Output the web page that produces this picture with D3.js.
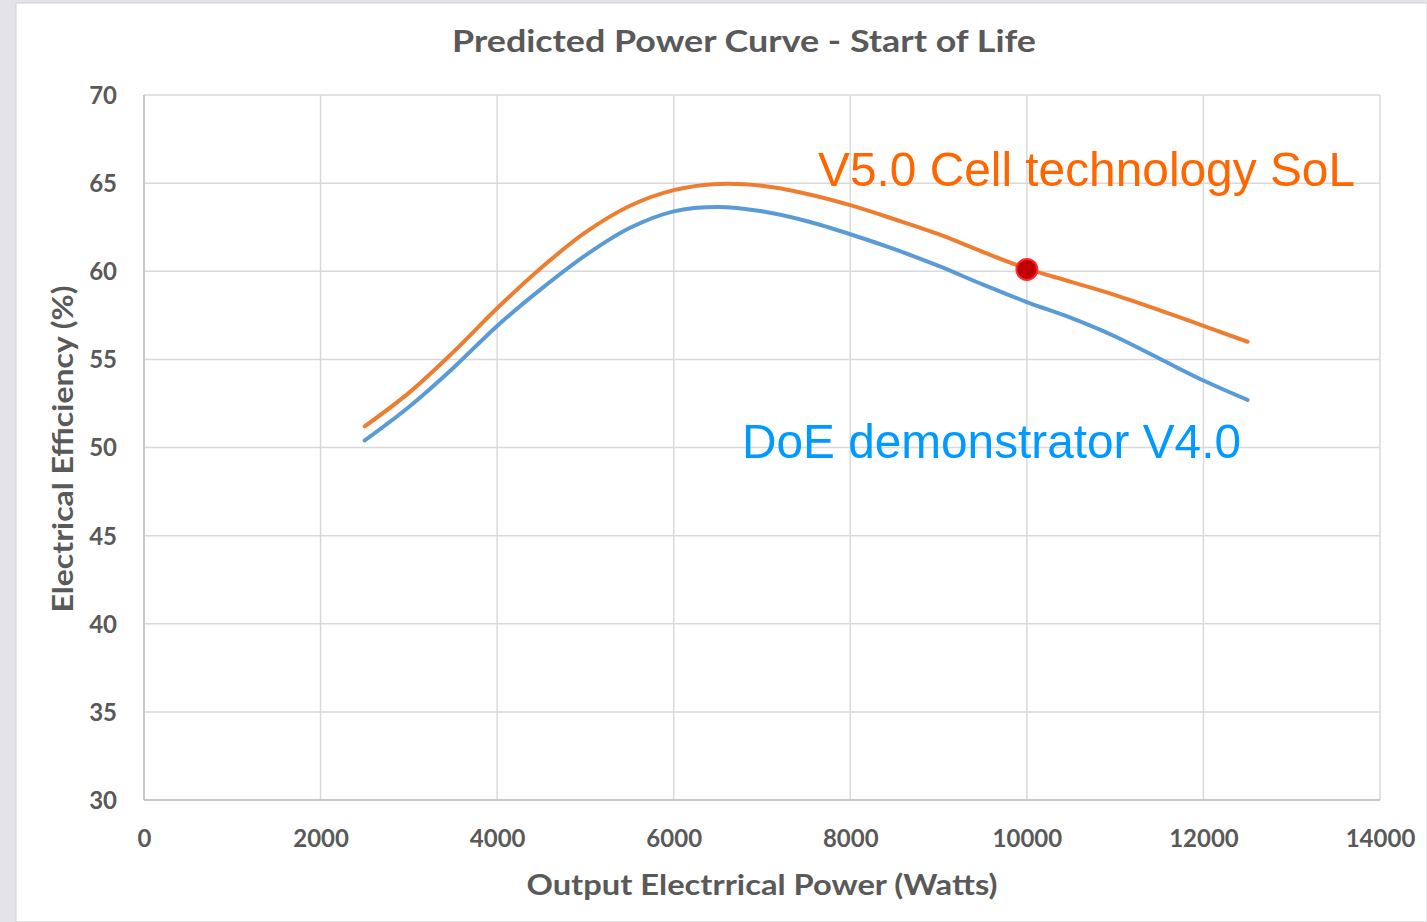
<!doctype html>
<html>
  <head>
    <meta charset="utf-8">
    <script src="https://cdn.jsdelivr.net/npm/d3@7"></script>
  <style>
    body { margin: 0; }
    text { font-family: Lato, "Open Sans", sans-serif; }
  </style>
  </head>
  <body>
    <svg width="1427" height="922"></svg>
  <script>

    let width = 1427,
        height = 922

    // chart values
    let power = [2500, 3000, 3500, 4000, 4500, 5000, 5500, 6000, 6500, 7000, 7500,
                 8000, 8500, 9000, 9500, 10000, 10500, 11000, 11500, 12000, 12500]
    let v5Cell = [51.2, 53.1, 55.4, 57.9, 60.2, 62.2, 63.7, 64.6, 64.95, 64.85, 64.4,
                  63.75, 62.95, 62.1, 61.1, 60.15, 59.4, 58.65, 57.8, 56.9, 56.0]
    let doeV4 = [50.4, 52.3, 54.5, 56.9, 59.0, 60.9, 62.45, 63.4, 63.65, 63.4, 62.85,
                 62.1, 61.25, 60.3, 59.25, 58.25, 57.35, 56.3, 55.05, 53.8, 52.7]
    let marker = [{ x: 10000, y: 60.1 }]
    let xTicks = [0, 2000, 4000, 6000, 8000, 10000, 12000, 14000]
    let yTicks = [30, 35, 40, 45, 50, 55, 60, 65, 70]

    let svg = d3.select("svg")

    // grey page edge behind the white chart panel
    svg.append("rect").attr("width", width).attr("height", height).attr("fill", "#e4e4e8")
    svg.append("rect").attr("x", 16).attr("y", 3).attr("width", width - 16).attr("height", height - 3)
       .attr("fill", "white").attr("stroke", "#d0d0d4")

    let x = d3.scaleLinear().domain([0, 14000]).range([144, 1380])
    let y = d3.scaleLinear().domain([30, 70]).range([800, 95])

    // gridlines
    svg.append("g")
      .selectAll("line").data(xTicks).enter().append("line")
        .attr("x1", d => x(d)).attr("x2", d => x(d))
        .attr("y1", y(30)).attr("y2", y(70))
        .attr("stroke", "#d9d9d9").attr("stroke-width", 1.5)
    svg.append("g")
      .selectAll("line").data(yTicks).enter().append("line")
        .attr("x1", x(0)).attr("x2", x(14000))
        .attr("y1", d => y(d)).attr("y2", d => y(d))
        .attr("stroke", "#d9d9d9").attr("stroke-width", 1.5)

    // axes, labels only
    let xAxis = svg.append("g")
        .attr("transform", "translate(0," + y(30) + ")")
        .call(d3.axisBottom(x).tickValues(xTicks).tickSize(0).tickPadding(30).tickFormat(d3.format("d")))
    let yAxis = svg.append("g")
        .attr("transform", "translate(" + (x(0) - 27) + ",0)")
        .call(d3.axisLeft(y).tickValues(yTicks).tickSize(0).tickPadding(0))
    for (let ax of [xAxis, yAxis]) {
      ax.select(".domain").remove()
      ax.selectAll("text")
        .style("font-family", "Lato, sans-serif")
        .attr("font-size", 24).attr("font-weight", "bold").attr("fill", "#595959")
    }
    yAxis.selectAll("text").attr("dy", "0.35em")
    xAxis.selectAll("text").attr("dy", "0.71em")

    // axis lines
    svg.append("line").attr("x1", x(0)).attr("x2", x(0)).attr("y1", y(30)).attr("y2", y(70))
       .attr("stroke", "#bfbfbf").attr("stroke-width", 1.5)
    svg.append("line").attr("x1", x(0)).attr("x2", x(14000)).attr("y1", y(30)).attr("y2", y(30))
       .attr("stroke", "#bfbfbf").attr("stroke-width", 1.5)

    let line = d3.line()
        .x((d, i) => x(power[i]))
        .y(d => y(d))
        .curve(d3.curveCatmullRom)

    svg.append("path").datum(doeV4)
       .attr("d", line).attr("fill", "none")
       .attr("stroke", "#5b9bd5").attr("stroke-width", 4).attr("stroke-linecap", "round")
    svg.append("path").datum(v5Cell)
       .attr("d", line).attr("fill", "none")
       .attr("stroke", "#ed7d31").attr("stroke-width", 4).attr("stroke-linecap", "round")

    svg.selectAll(".marker").data(marker).enter().append("circle")
       .attr("class", "marker")
       .attr("cx", d => x(d.x)).attr("cy", d => y(d.y)).attr("r", 10.5)
       .attr("fill", "#c00000").attr("stroke", "#ff2a2a").attr("stroke-width", 2)

    // titles
    svg.append("text").text("Predicted Power Curve - Start of Life")
       .attr("x", 744).attr("y", 52).attr("text-anchor", "middle")
       .attr("font-size", 31).attr("font-weight", "bold").attr("fill", "#595959")
       .attr("textLength", 584).attr("lengthAdjust", "spacingAndGlyphs")
    svg.append("text").text("Output Electrrical Power (Watts)")
       .attr("x", 762).attr("y", 895).attr("text-anchor", "middle")
       .attr("font-size", 29).attr("font-weight", "bold").attr("fill", "#595959")
       .attr("textLength", 471).attr("lengthAdjust", "spacingAndGlyphs")
    svg.append("text").text("Electrical Efficiency (%)")
       .attr("transform", "translate(73,449) rotate(-90)").attr("text-anchor", "middle")
       .attr("font-size", 29).attr("font-weight", "bold").attr("fill", "#595959")
       .attr("textLength", 327).attr("lengthAdjust", "spacingAndGlyphs")

    // series annotations
    svg.append("text").text("V5.0 Cell technology SoL")
       .attr("x", 818).attr("y", 186)
       .style("font-family", "'Liberation Sans', Arial, sans-serif")
       .attr("font-size", 49).attr("fill", "#ff6600")
       .attr("textLength", 537).attr("lengthAdjust", "spacingAndGlyphs")
    svg.append("text").text("DoE demonstrator V4.0")
       .attr("x", 742).attr("y", 458)
       .style("font-family", "'Liberation Sans', Arial, sans-serif")
       .attr("font-size", 49).attr("fill", "#0099ff")
       .attr("textLength", 499).attr("lengthAdjust", "spacingAndGlyphs")

  </script>
  </body>
</html>
